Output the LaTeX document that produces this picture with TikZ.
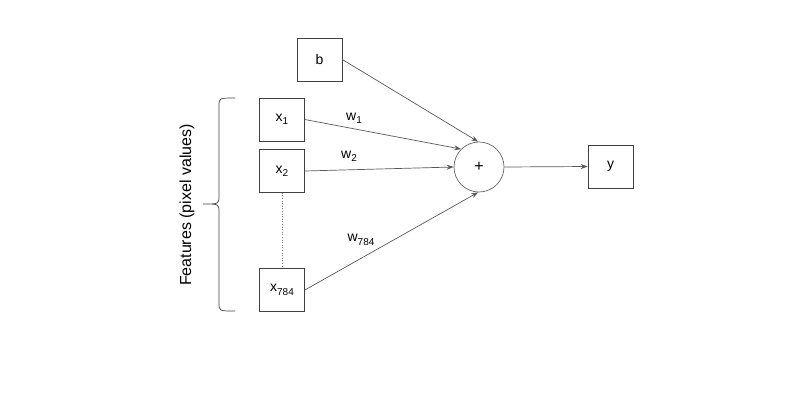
\documentclass[tikz,border=0pt]{standalone}
\usepackage{fontspec}
\setmainfont{Liberation Sans}
\usetikzlibrary{arrows.meta}
\newcommand{\mysub}[1]{\raisebox{-0.45ex}{\fontsize{10}{11}\selectfont #1}}
\begin{document}
\begin{tikzpicture}[x=1pt,y=-1pt,
  box/.style={draw=black!75,line width=0.7pt,minimum width=45pt,minimum height=43pt,inner sep=0pt,font=\fontsize{14}{16}\selectfont},
  sumnode/.style={draw=black!60,circle,minimum size=50pt,inner sep=0pt,line width=0.7pt,font=\fontsize{16}{18}\selectfont},
  conn/.style={draw=black!65,line width=0.7pt,-{Stealth[length=7pt,width=5pt]}},
  wlab/.style={font=\fontsize{14}{16}\selectfont,inner sep=0pt},
  bracestyle/.style={draw=black!75,line width=0.7pt}]
\useasboundingbox (0,0) rectangle (800,400);
\node[box] (b) at (319.5,59.5) {b};
\node[box] (x1) at (282,119.5) {x\mysub{1}};
\node[box] (x2) at (282,171) {x\mysub{2}};
\node[box] (x784) at (282,290) {x\mysub{784}};
\node[sumnode] (plus) at (479,167) {+};
\node[box] (y) at (610.5,166.5) {y};
\draw[conn] (b.east) -- (plus.92);
\draw[conn] (x1.east) -- (plus.135);
\draw[conn] (x2.east) -- (plus.180);
\draw[conn] (x784.east) -- (plus.268);
\draw[conn] (plus.east) -- (y.west);
\draw[black!50,dotted,line width=0.6pt] (x2.south) -- (x784.north);
\node[wlab] (w1) at (354,118) {w\mysub{1}};
\node[wlab] (w2) at (349,156) {w\mysub{2}};
\node[wlab] (w784) at (361,240) {w\mysub{784}};
\draw[bracestyle] (235,98) .. controls (219,98) .. (219,106) -- (219,196)
  .. controls (219,204) .. (203,204) .. controls (219,204) .. (219,212)
  -- (219,303) .. controls (219,311) .. (235,311);
\node[rotate=90,font=\fontsize{16}{18}\selectfont] (feat) at (187,205) {Features (pixel values)};
\end{tikzpicture}
\end{document}
